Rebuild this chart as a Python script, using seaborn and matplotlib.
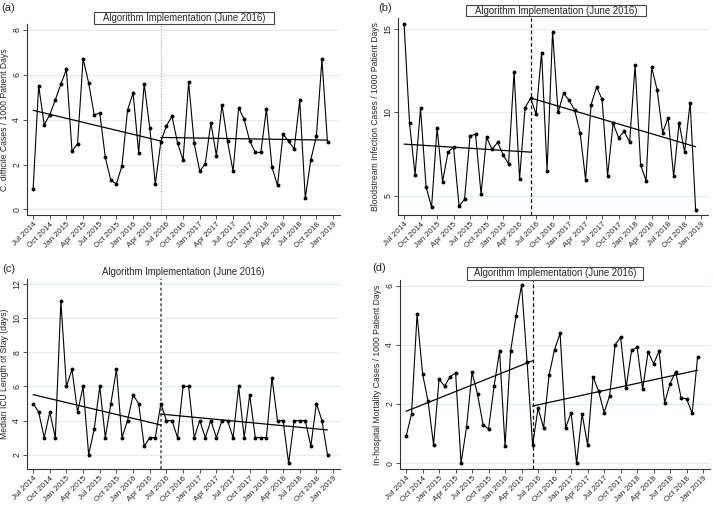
import numpy as np
import pandas as pd
import matplotlib
matplotlib.use('Agg')
import matplotlib.pyplot as plt
from matplotlib.patches import Rectangle
import seaborn as sns

# --
# Data: monthly values, Jul 2014 - Dec 2018 (54 months)

cdiff = [0.89, 5.52, 3.78, 4.22, 4.89, 5.59, 6.25, 2.60, 2.93, 6.72, 5.64, 4.22,
         4.30, 2.32, 1.29, 1.14, 1.95, 4.43, 5.20, 2.53, 5.60, 3.63, 1.14, 3.02,
         3.73, 4.15, 2.97, 2.19, 5.67, 2.94, 1.70, 2.04, 3.87, 2.39, 4.67, 3.03,
         1.70, 4.54, 4.01, 3.05, 2.54, 2.54, 4.48, 1.89, 1.07, 3.36, 3.03, 2.71,
         4.86, 0.51, 2.22, 3.27, 6.69, 2.99]

bsi = [15.31, 9.34, 6.27, 10.24, 5.55, 4.33, 9.06, 5.85, 7.62, 7.92, 4.39, 4.81,
       8.60, 8.68, 5.11, 8.50, 7.78, 8.20, 7.47, 6.91, 12.42, 6.00, 10.28, 10.84,
       9.90, 13.57, 6.51, 14.81, 10.00, 11.14, 10.72, 10.14, 8.78, 5.97, 10.46, 11.50,
       10.78, 6.21, 9.34, 8.48, 8.86, 8.22, 12.81, 6.85, 5.91, 12.71, 11.34, 8.78,
       9.68, 6.17, 9.36, 7.62, 10.58, 4.17]

icu_los = [5, 4.5, 3, 4.5, 3, 11, 6, 7, 4.5, 6, 2, 3.5,
           6, 3, 5, 7, 3, 4, 5.5, 5, 2.5, 3, 3, 5,
           4, 4, 3, 6, 6, 3, 4, 3, 4, 3, 4, 4,
           3, 6, 3, 5.5, 3, 3, 3, 6.5, 4, 4, 1.5, 4,
           4, 4, 2.5, 5, 4, 2]

mortality = [0.90, 1.66, 5.03, 3.02, 2.09, 0.62, 2.84, 2.60, 2.92, 3.05, 0.00, 1.22,
             3.07, 2.32, 1.30, 1.15, 2.60, 3.78, 0.57, 3.78, 4.97, 6.02, 3.42, 0.61,
             1.86, 1.19, 2.98, 3.84, 4.39, 1.18, 1.71, 0.00, 1.67, 0.61, 2.92, 2.43,
             1.71, 2.27, 4.00, 4.25, 2.55, 3.81, 3.91, 2.50, 3.76, 3.36, 3.78, 2.04,
             2.69, 3.09, 2.21, 2.17, 1.68, 3.60]

# fitted segmented-regression values:
# [pre start (Jul 2014), pre end (Jun 2016), post start (Jun 2016), post end (Dec 2018)]
cdiff_fit = [4.42, 3.05, 3.21, 3.09]
bsi_fit = [8.10, 7.62, 10.86, 7.94]
icu_los_fit = [5.52, 3.74, 4.38, 3.45]
mortality_fit = [1.75, 3.46, 1.93, 3.14]

tick_labels = ['Jul 2014', 'Oct 2014', 'Jan 2015', 'Apr 2015', 'Jul 2015', 'Oct 2015',
               'Jan 2016', 'Apr 2016', 'Jul 2016', 'Oct 2016', 'Jan 2017', 'Apr 2017',
               'Jul 2017', 'Oct 2017', 'Jan 2018', 'Apr 2018', 'Jul 2018', 'Oct 2018',
               'Jan 2019']

ylabels = ['C. difficile Cases / 1000 Patient Days',
           'Bloodstream Infection Cases / 1000 Patient Days',
           'Median ICU Length of Stay (days)',
           'In-hospital Mortality Cases / 1000 Patient Days']

title = 'Algorithm Implementation (June 2016)'
impl_month = 23  # June 2016

# --
# Layout helpers (pixels of a 713x505 canvas)

W, H = 713, 505

def px_rect(l, r, t, b):
    return [l / W, 1 - b / H, (r - l) / W, (b - t) / H]

def fx(x):
    return x / W

def fy(y):
    return 1 - y / H

panels = [
    dict(vals=cdiff, fit=cdiff_fit, ylabel=ylabels[0], yticks=[0, 2, 4, 6, 8], ylim=(-0.25, 8.27),
         rect=(27, 340, 24, 215), box=(94, 274, 12, 24), label='(a)', label_xy=(8, 8),
         vline=dict(color='#a0a0a0', ls=':', lw=0.8)),
    dict(vals=bsi, fit=bsi_fit, ylabel=ylabels[1], yticks=[5, 10, 15], ylim=(3.86, 15.64),
         rect=(398, 708, 18, 215), box=(466, 646, 5, 16), label='(b)', label_xy=(385, 8),
         vline=dict(color='#111111', ls=(0, (3, 2)), lw=0.9)),
    dict(vals=icu_los, fit=icu_los_fit, ylabel=ylabels[2], yticks=[2, 4, 6, 8, 10, 12], ylim=(1.16, 12.3),
         rect=(27, 340, 279, 469), box=None, title_xy=(183, 272), label='(c)', label_xy=(9, 269),
         vline=dict(color='#707070', ls=(0, (1.5, 1.2)), lw=1.4)),
    dict(vals=mortality, fit=mortality_fit, ylabel=ylabels[3], yticks=[0, 2, 4, 6], ylim=(-0.2, 6.19),
         rect=(400, 710, 280, 469), box=(467, 643, 267, 280), label='(d)', label_xy=(379, 268),
         vline=dict(color='#111111', ls=(0, (3, 2)), lw=0.9)),
]

# --
# Plot

sns.set_theme(style='white')
plt.rcParams['font.family'] = ['Liberation Sans', 'DejaVu Sans']

fig = plt.figure(figsize=(W / 100, H / 100), dpi=100)

months = np.arange(len(cdiff))
ticks = np.arange(0, 55, 3)

for p in panels:
    ax = fig.add_axes(px_rect(*p['rect']))
    df = pd.DataFrame({'month': months, 'value': p['vals']})

    sns.lineplot(data=df, x='month', y='value', ax=ax, color='black', lw=0.8,
                 marker='o', markersize=2.8, markeredgewidth=0, zorder=3)

    # segmented trends (pre / post implementation)
    fit = p['fit']
    trend = pd.DataFrame({'month': [0, impl_month, impl_month, months[-1]],
                          'value': fit,
                          'segment': ['pre', 'pre', 'post', 'post']})
    sns.lineplot(data=trend, x='month', y='value', units='segment', estimator=None,
                 ax=ax, color='black', lw=0.9, zorder=2)

    ax.axvline(impl_month, zorder=1, **p['vline'])

    ax.set_xlim(-1.1, 55.25)
    ax.set_ylim(*p['ylim'])
    ax.set_xticks(ticks)
    ax.set_xticklabels(tick_labels, rotation=45, ha='right', rotation_mode='anchor')
    ax.set_yticks(p['yticks'])
    ax.set_yticklabels([str(t) for t in p['yticks']], rotation=90, va='center')
    ax.set_xlabel('')
    ax.set_ylabel(p['ylabel'], fontsize=6.2, labelpad=2)

    ax.yaxis.grid(True, color='#e3ebee', lw=0.8)
    ax.set_axisbelow(True)
    sns.despine(ax=ax)
    for s in ['left', 'bottom']:
        ax.spines[s].set_color('#333333')
        ax.spines[s].set_linewidth(0.8)
    ax.tick_params(axis='both', which='both', direction='out', length=3, width=0.6,
                   color='#333333', labelsize=5.9, pad=1.2, bottom=True, left=True)
    ax.tick_params(axis='y', labelsize=6.3)

    # title box
    if p['box'] is not None:
        l, r, t, b = p['box']
        fig.add_artist(Rectangle((fx(l), fy(b)), (r - l) / W, (b - t) / H,
                                 transform=fig.transFigure, facecolor='white',
                                 edgecolor='#444444', lw=0.8, zorder=5))
        tx, ty = (l + r) / 2, (t + b) / 2
    else:
        tx, ty = p['title_xy']
    fig.text(fx(tx), fy(ty), title, ha='center', va='center', fontsize=6.9, zorder=6)

    fig.text(fx(p['label_xy'][0]), fy(p['label_xy'][1]), p['label'],
             ha='center', va='center', fontsize=8)

fig.savefig('out.png', dpi=100)
